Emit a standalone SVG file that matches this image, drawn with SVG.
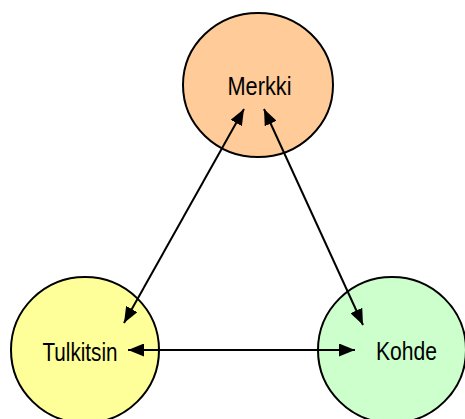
<svg xmlns="http://www.w3.org/2000/svg" width="465" height="419" viewBox="0 0 465 419">
  <style>
    .node { stroke: #000; stroke-width: 2; }
    .label { font-family: "Liberation Sans", Arial, sans-serif; font-size: 26px; fill: #000; text-anchor: middle; }
    .link { stroke: #000; stroke-width: 2; fill: none; marker-start: url(#arrow); marker-end: url(#arrow); }
  </style>
  <defs>
    <marker id="arrow" markerUnits="userSpaceOnUse" markerWidth="17" markerHeight="13" refX="16" refY="6.5" orient="auto-start-reverse">
      <path d="M0,0 L16,6.5 L0,13 z" fill="#000"/>
    </marker>
  </defs>

  <g id="merkki">
    <ellipse class="node" cx="258" cy="85" rx="75" ry="72" fill="#FFCC99"/>
    <text class="label" x="259.5" y="95" textLength="64" lengthAdjust="spacingAndGlyphs">Merkki</text>
  </g>
  <g id="tulkitsin">
    <ellipse class="node" cx="85" cy="350" rx="74" ry="73" fill="#FFFF99"/>
    <text class="label" x="80" y="360.5" textLength="75" lengthAdjust="spacingAndGlyphs">Tulkitsin</text>
  </g>
  <g id="kohde">
    <ellipse class="node" cx="392" cy="350" rx="74" ry="73" fill="#CCFFCC"/>
    <text class="label" x="406.5" y="360" textLength="61" lengthAdjust="spacingAndGlyphs">Kohde</text>
  </g>

  <g id="connectors">
    <line class="link" x1="124" y1="323" x2="244" y2="109"/>
    <line class="link" x1="264" y1="109" x2="363" y2="325"/>
    <line class="link" x1="128" y1="350" x2="355" y2="350"/>
  </g>
</svg>
